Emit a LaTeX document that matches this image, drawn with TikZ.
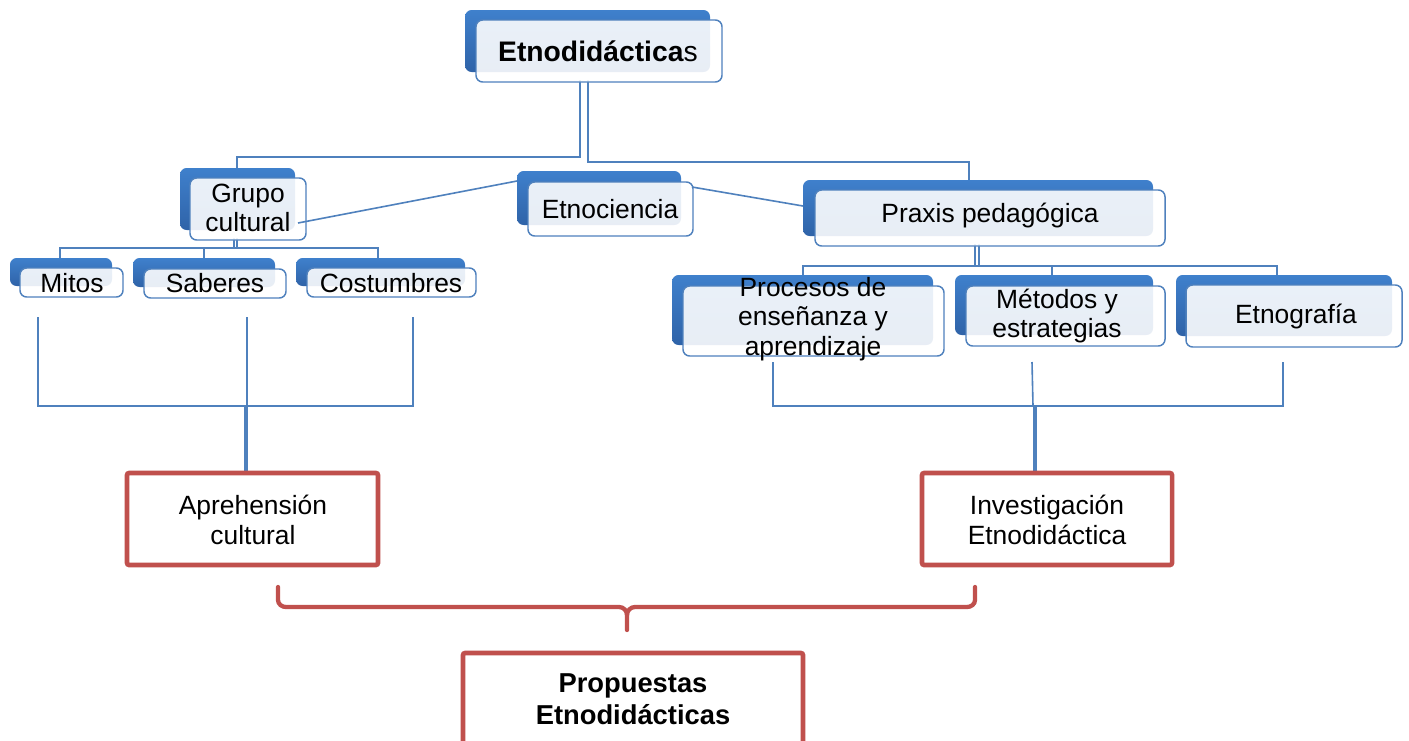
\documentclass[tikz,border=0pt]{standalone}
\usepackage{fontspec}
\setmainfont{Liberation Sans}
\usetikzlibrary{fit}
\definecolor{boxblue}{HTML}{4F81BD}
\definecolor{backtop}{HTML}{3F80CC}
\definecolor{backbot}{HTML}{2F63A8}
\definecolor{redline}{HTML}{C0504D}
\tikzset{
  backbox/.style={rounded corners=5pt, top color=backtop, bottom color=backbot, draw=none, inner sep=0pt},
  frontbox/.style={rounded corners=5pt, fill=white, fill opacity=0.89, draw=boxblue, draw opacity=1, line width=1.1pt, inner sep=0pt},
  redbox/.style={draw=redline, line width=3.4pt, rounded corners=1.5pt, inner sep=0pt},
  lbl/.style={align=center, font=\fontsize{19.8}{22}\selectfont, inner sep=0pt},
  conn/.style={draw=boxblue, line width=1.2pt},
  stem/.style={draw=boxblue, line width=3.6pt},
  bracelink/.style={draw=redline, line width=3.2pt, line cap=round}
}
\begin{document}
\begin{tikzpicture}[x=0.75pt,y=-0.75pt]
\useasboundingbox (0,0) rectangle (1409,740);
\clip (0,0) rectangle (1409,740);
\fill[white] (0,0) rectangle (1409,740);

% connectors behind boxes
\coordinate (c1) at (580,157);
\coordinate (c2) at (588,162);
\draw[conn] (580,80) -- (c1) -| (237,170);
\draw[conn] (588,80) -- (c2) -| (969,182);
\draw[conn] (234,238) -- (234,248);
\draw[conn] (237,238) -- (237,248);
\draw[conn] (60,260) |- (378,248) -- (378,260);
\draw[conn] (204,248) -- (204,260);
\draw[conn] (975,244) -- (975,266);
\draw[conn] (979,244) -- (979,266);
\draw[conn] (803,277) |- (1277,266) -- (1277,277);
\draw[conn] (1052,266) -- (1052,277);

% boxes
\newcommand\ebox[9]{%
  \node[backbox, fit={(#2,#3)(#4,#5)}] (#1b) {};
  \node[frontbox, fit={(#6,#7)(#8,#9)}] (#1) {};
}
\ebox{top}{465}{10}{710}{72}{476}{20}{722}{82}
\ebox{grupo}{180}{168}{295}{230}{190}{178}{306}{240}
\ebox{mitos}{10}{258}{112}{286}{20}{268}{123}{297}
\ebox{saberes}{133}{258}{275}{287}{144}{269}{286}{298}
\ebox{costumbres}{296}{258}{465}{286}{307}{268}{476}{297}
\ebox{etnociencia}{517}{171}{681}{225}{528}{182}{693}{236}
\ebox{praxis}{803}{180}{1153}{236}{815}{190}{1165}{246}
\ebox{procesos}{672}{275}{933}{345}{683}{286}{944}{356}
\ebox{metodos}{955}{275}{1153}{335}{966}{286}{1165}{346}
\ebox{etnografia}{1176}{275}{1392}{336}{1186}{285}{1402}{347}

% cross links
\draw[conn] (298,223) -- (517,181);
\draw[conn] (692,187) -- (803,206);

% labels
\node[lbl, font=\fontsize{21.2}{24}\selectfont] at (598,51) {\textbf{Etnodidáctica}s};
\node[lbl] at (248,208) {Grupo\\cultural};
\node[lbl] at (72,283) {Mitos};
\node[lbl] at (215,283) {Saberes};
\node[lbl] at (391,283) {Costumbres};
\node[lbl] at (610,209) {Etnociencia};
\node[lbl] at (990,216) {Praxis pedagógica};
\node[lbl] at (813,319) {Procesos de\\enseñanza y\\aprendizaje};
\node[lbl] at (1057,316) {Métodos y\\estrategias};
\node[lbl] at (1296,317) {Etnografía};

% lower brackets
\draw[conn] (38,317) |- (413,406) -- (413,317);
\draw[conn] (247,317) -- (247,406);
\draw[stem] (246,406) -- (246,474);
\draw[conn] (773,362) |- (1283,406) -- (1283,362);
\draw[conn] (1032,362) -- (1033,406);
\draw[stem] (1035,406) -- (1035,474);

% red boxes
\node[redbox, fit={(127,473)(378,565)}] (aprehension) {};
\node[redbox, fit={(922,473)(1172,565)}] (investigacion) {};
\node[redbox, fit={(463,653)(803,780)}] (propuestas) {};
\node[lbl] at (253,520) {Aprehensión\\cultural};
\node[lbl] at (1047,520) {Investigación\\Etnodidáctica};
\node[lbl, font=\fontsize{20.5}{24}\selectfont] at (633,699) {\textbf{Propuestas}\\\textbf{Etnodidácticas}};

% brace
\coordinate (bl) at (278,587);
\coordinate (br) at (975,587);
\coordinate (bt) at (627,630);
\draw[bracelink] (bl) -- (278,600) to[out=-90,in=180] (286,607) -- (619,607) to[out=0,in=90] (627,615) -- (bt);
\draw[bracelink] (br) -- (975,600) to[out=-90,in=0] (967,607) -- (635,607) to[out=180,in=90] (627,615);
\end{tikzpicture}
\end{document}
